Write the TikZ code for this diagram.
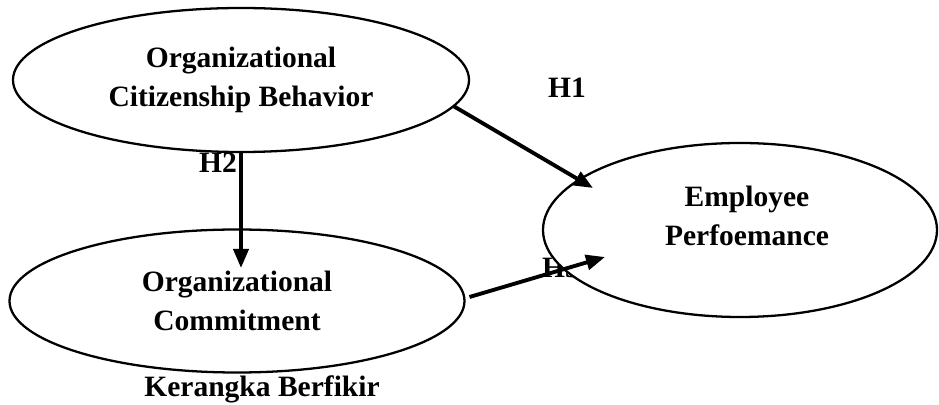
\documentclass[tikz,border=0pt]{standalone}
\usepackage{fontspec}
\setmainfont{Liberation Serif}
\usetikzlibrary{arrows.meta,shapes.geometric}

\begin{document}
\begin{tikzpicture}[x=0.2mm,y=-0.2mm,
		font=\fontsize{16.8}{22}\selectfont\bfseries,
		construct/.style={draw,ellipse,fill=white,line width=1.3pt,inner sep=0pt,outer sep=0pt,align=center},
		hypo/.style={inner sep=0pt},
		path/.style={line width=2.2pt,-{Triangle[length=3.8mm,width=3mm]}}]
					\useasboundingbox (0,0) rectangle (939,405);
					\node[hypo] (lh2) at (218,163) {H2};
					\node[hypo] (lh3) at (561,268) {H3};
					\node[construct,minimum width=91.2mm,minimum height=28.8mm] (ocb) at (241,80) {Organizational\\Citizenship Behavior};
					\node[construct,minimum width=91mm,minimum height=28.6mm] (oc) at (237,301) {Organizational\\Commitment};
					\node[construct,minimum width=78.8mm,minimum height=34.8mm] (ep) at (740,230) {};
					\node[align=center] (eptext) at (747,216) {Employee\\Perfoemance};
					\node[hypo] (lh1) at (567,88) {H1};
					\node[hypo,anchor=base] (caption) at (262,397) {Kerangka Berfikir};
					\coordinate (h1tip) at (593,188);
					\coordinate (h2tip) at (241,268);
					\coordinate (h3tip) at (605,257);
					\draw[path] (ocb.-7.6) -- (h1tip);
					\draw[path] (ocb.south) -- (h2tip);
					\draw[path] ([xshift=1mm,yshift=0.8mm]oc.east) -- (h3tip);
				\end{tikzpicture}
\end{document}
